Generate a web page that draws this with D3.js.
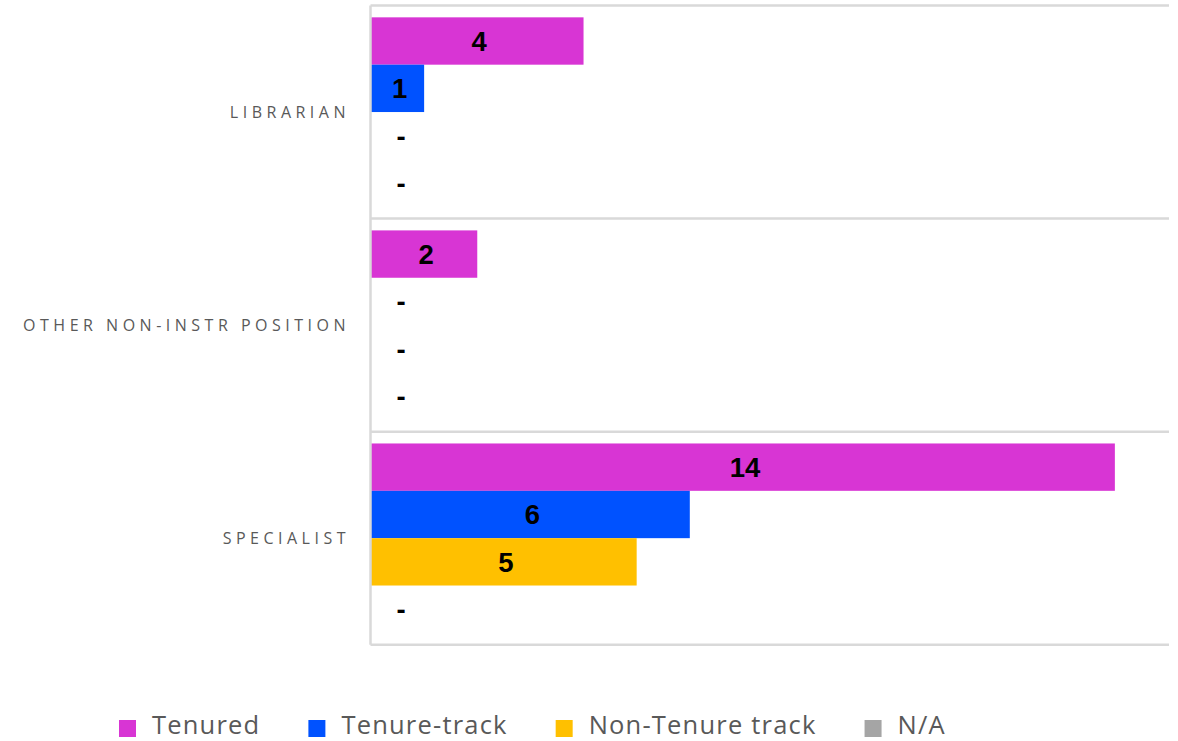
<!DOCTYPE html>
<html>
<head>
<meta charset="utf-8">
<script src="https://cdn.jsdelivr.net/npm/d3@7"></script>
<style>
  html, body { margin: 0; padding: 0; background: #ffffff; }
  svg { display: block; }
</style>
</head>
<body>
<svg id="chart" width="1178" height="741"></svg>
<script>
// ---- data ----
const categories = ["LIBRARIAN", "OTHER NON-INSTR POSITION", "SPECIALIST"];
const seriesNames = ["Tenured", "Tenure-track", "Non-Tenure track", "N/A"];
const seriesColors = ["#D835D4", "#0052FF", "#FFC000", "#A5A5A5"];
const tenured = [4, 2, 14];
const tenureTrack = [1, 0, 6];
const nonTenureTrack = [0, 0, 5];
const notApplicable = [0, 0, 0];
const xMax = 15;

const seriesValues = [tenured, tenureTrack, nonTenureTrack, notApplicable];

// ---- layout ----
(function () {
const svg = d3.select("#chart");
const plotLeft = 370.5, plotRight = 1169, plotTop = 5.5, plotBottom = 644.7;

const x = d3.scaleLinear().domain([0, xMax]).range([371, 1168]);
const y = d3.scaleBand().domain(categories).range([plotTop, plotBottom]).padding(0);
const ys = d3.scaleBand().domain(seriesNames).range([0, y.bandwidth()]).paddingInner(0).paddingOuter(0.25);

const gridColor = "#d9d9d9";

// horizontal category separators
const boundaries = categories.map(c => y(c)).concat([y(categories[categories.length - 1]) + y.bandwidth()]);
svg.append("g").selectAll("line").data(boundaries).join("line")
  .attr("x1", plotLeft).attr("x2", plotRight)
  .attr("y1", d => d).attr("y2", d => d)
  .attr("stroke", gridColor).attr("stroke-width", 2.5);

// bars
const rows = [];
categories.forEach((c, ci) => {
  seriesNames.forEach((s, si) => {
    rows.push({ cat: c, series: s, si, value: seriesValues[si][ci] });
  });
});

svg.append("g").selectAll("rect").data(rows.filter(d => d.value > 0)).join("rect")
  .attr("x", x(0))
  .attr("y", d => y(d.cat) + ys(d.series))
  .attr("width", d => x(d.value) - x(0))
  .attr("height", ys.bandwidth())
  .attr("fill", d => seriesColors[d.si]);

// vertical axis line
svg.append("line")
  .attr("x1", plotLeft).attr("x2", plotLeft)
  .attr("y1", plotTop).attr("y2", plotBottom)
  .attr("stroke", gridColor).attr("stroke-width", 2.5);

// data labels
svg.append("g").selectAll("text").data(rows).join("text")
  .attr("x", d => d.value > 0 ? (x(0) + x(d.value)) / 2 + 2 : x(0) + 30)
  .attr("y", d => y(d.cat) + ys(d.series) + ys.bandwidth() / 2 + 9.8)
  .attr("text-anchor", "middle")
  .attr("font-family", "'Liberation Sans', Arial, sans-serif")
  .attr("font-weight", "bold")
  .attr("font-size", 27.5)
  .attr("fill", "#000000")
  .text(d => d.value > 0 ? d3.format("d")(d.value) : "-");

// category labels
svg.append("g").selectAll("text").data(categories).join("text")
  .attr("x", 350)
  .attr("y", d => y(d) + y.bandwidth() / 2 + 5.7)
  .attr("text-anchor", "end")
  .attr("font-family", "'Open Sans', sans-serif")
  .attr("font-size", 16)
  .attr("letter-spacing", "4.5px")
  .attr("fill", "#595959")
  .text(d => d);

// legend
const legend = svg.append("g");
let lx = 119;
const legendY = 728;
seriesNames.forEach((s, i) => {
  legend.append("rect")
    .attr("x", lx).attr("y", legendY - 8)
    .attr("width", 17).attr("height", 17)
    .attr("fill", seriesColors[i]);
  const t = legend.append("text")
    .attr("x", lx + 33)
    .attr("y", legendY + 6)
    .attr("font-family", "'Open Sans', sans-serif")
    .attr("font-size", 25.5)
    .attr("letter-spacing", "1.2px")
    .attr("fill", "#595959")
    .text(s);
  lx = lx + 33 + t.node().getComputedTextLength() + 48;
});
})();
</script>
</body>
</html>
